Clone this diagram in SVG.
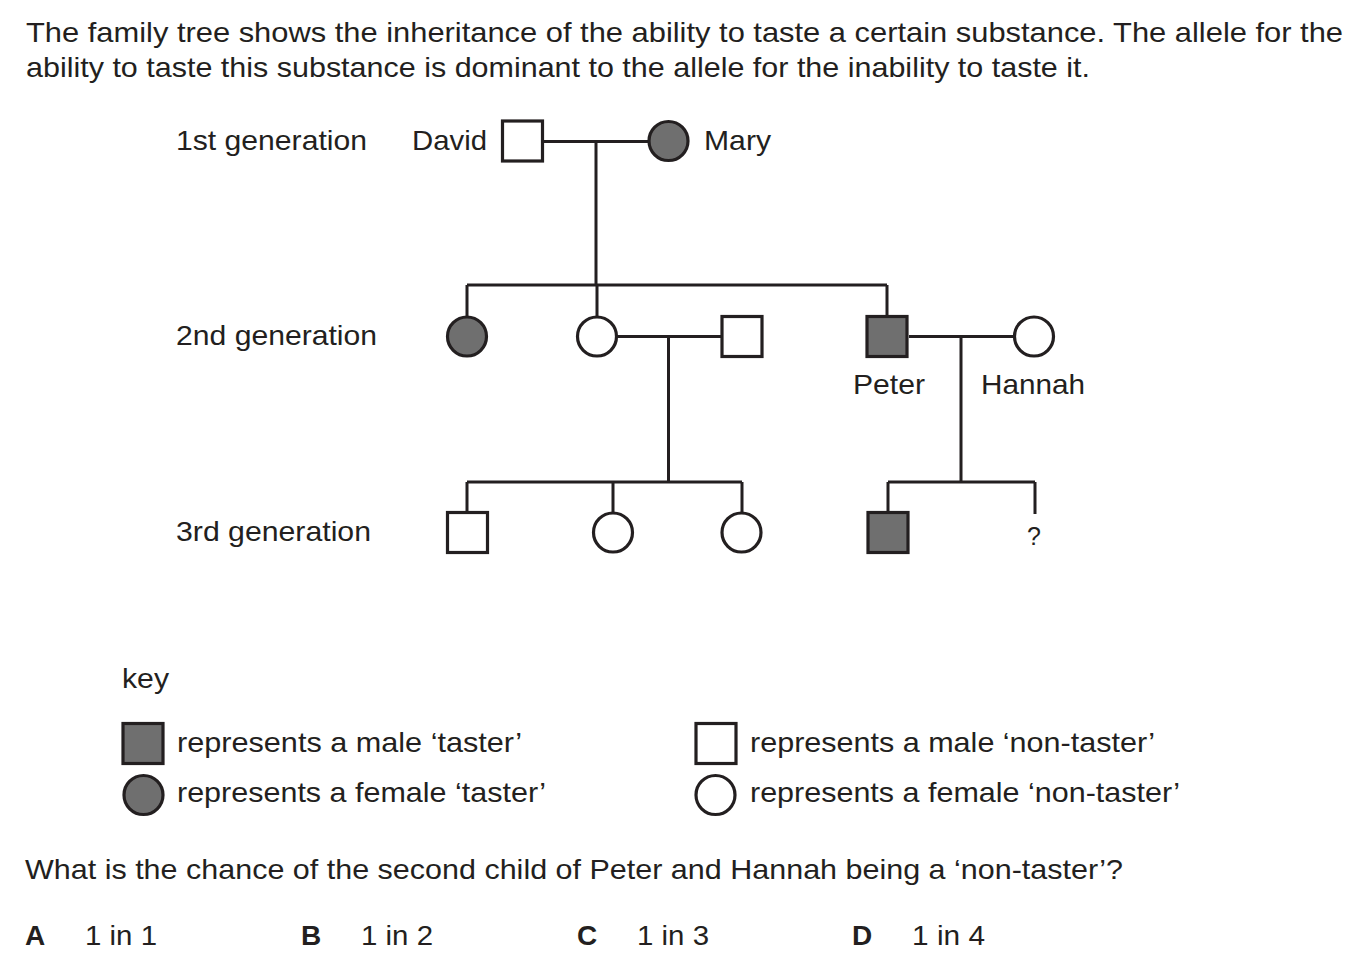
<svg xmlns="http://www.w3.org/2000/svg" width="1358" height="970" viewBox="0 0 1358 970">
<style>
text{font-family:"Liberation Sans",Arial,sans-serif;font-size:28px;fill:#231f20}
.b{font-weight:bold}
.m{text-anchor:middle}
.e{text-anchor:end}
.sh{stroke:#231f20;stroke-width:3.2}
.t{fill:#6f6f6f}
.n{fill:#fff}
.ln{stroke:#231f20;stroke-width:3;fill:none}
</style>
<rect width="1358" height="970" fill="#fff"/>
<text x="26" y="42" textLength="1317" lengthAdjust="spacingAndGlyphs">The family tree shows the inheritance of the ability to taste a certain substance. The allele for the</text>
<text x="26" y="77" textLength="1064" lengthAdjust="spacingAndGlyphs">ability to taste this substance is dominant to the allele for the inability to taste it.</text>
<text x="176" y="150" textLength="191" lengthAdjust="spacingAndGlyphs">1st generation</text>
<text x="176" y="345" textLength="201" lengthAdjust="spacingAndGlyphs">2nd generation</text>
<text x="176" y="541" textLength="195" lengthAdjust="spacingAndGlyphs">3rd generation</text>
<g id="connectors" class="ln">
<path d="M543 141.5H648M596 141.5V285M467 285H887M467 285V317M597 285V317M887 285V316"/>
<path d="M617 336.5H721M668.5 336.5V482M467 482H742M467 482V512M613 482V512M742 482V512"/>
<path d="M909 336.5H1014M961 336.5V482M888 482H1035M888 482V512M1035 482V514"/>
</g>
<g id="david"><rect class="sh n" x="502.5" y="121" width="40" height="40"/><text x="412" y="150" textLength="75" lengthAdjust="spacingAndGlyphs">David</text></g>
<g id="mary"><circle class="sh t" cx="668.5" cy="141" r="19.5"/><text x="704" y="150" textLength="67" lengthAdjust="spacingAndGlyphs">Mary</text></g>
<g id="g2a"><circle class="sh t" cx="467" cy="336.5" r="19.5"/></g>
<g id="g2b"><circle class="sh n" cx="597" cy="336.5" r="19.5"/></g>
<g id="g2c"><rect class="sh n" x="722" y="316.5" width="40" height="40"/></g>
<g id="peter"><rect class="sh t" x="867" y="316.5" width="40" height="40"/><text x="853" y="394" textLength="72" lengthAdjust="spacingAndGlyphs">Peter</text></g>
<g id="hannah"><circle class="sh n" cx="1034" cy="336.5" r="19.5"/><text x="981" y="394" textLength="104" lengthAdjust="spacingAndGlyphs">Hannah</text></g>
<g id="g3a"><rect class="sh n" x="447.5" y="512.5" width="40" height="40"/></g>
<g id="g3b"><circle class="sh n" cx="613" cy="532.5" r="19.5"/></g>
<g id="g3c"><circle class="sh n" cx="741.5" cy="532.5" r="19.5"/></g>
<g id="g3d"><rect class="sh t" x="868" y="512.5" width="40" height="40"/></g>
<g id="g3q"><text class="m" x="1034" y="545" style="font-size:25px">?</text></g>
<g id="key">
<text x="122" y="688" textLength="47" lengthAdjust="spacingAndGlyphs">key</text>
<rect class="sh t" x="123" y="723.5" width="40" height="40"/>
<text x="177" y="752" textLength="345" lengthAdjust="spacingAndGlyphs">represents a male ‘taster’</text>
<circle class="sh t" cx="143.5" cy="795" r="19.5"/>
<text x="177" y="802" textLength="369" lengthAdjust="spacingAndGlyphs">represents a female ‘taster’</text>
<rect class="sh n" x="696" y="723.5" width="40" height="40"/>
<text x="750" y="752" textLength="405" lengthAdjust="spacingAndGlyphs">represents a male ‘non-taster’</text>
<circle class="sh n" cx="715.5" cy="795" r="19.5"/>
<text x="750" y="802" textLength="430" lengthAdjust="spacingAndGlyphs">represents a female ‘non-taster’</text>
</g>
<text x="25" y="879" textLength="1098" lengthAdjust="spacingAndGlyphs">What is the chance of the second child of Peter and Hannah being a ‘non-taster’?</text>
<text class="b" x="25" y="945">A</text><text x="85" y="945" textLength="72" lengthAdjust="spacingAndGlyphs">1 in 1</text>
<text class="b" x="301" y="945">B</text><text x="361" y="945" textLength="72" lengthAdjust="spacingAndGlyphs">1 in 2</text>
<text class="b" x="577" y="945">C</text><text x="637" y="945" textLength="72" lengthAdjust="spacingAndGlyphs">1 in 3</text>
<text class="b" x="852" y="945">D</text><text x="912" y="945" textLength="73" lengthAdjust="spacingAndGlyphs">1 in 4</text>
</svg>
